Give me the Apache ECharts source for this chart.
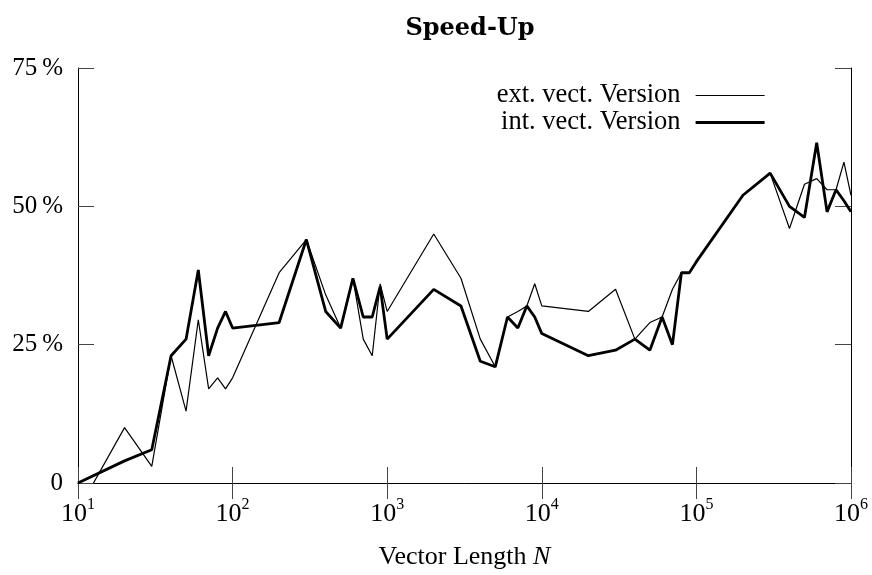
<!DOCTYPE html>
<html>
<head>
<meta charset="utf-8">
<script src="https://cdn.jsdelivr.net/npm/echarts@6/dist/echarts.min.js"></script>
<style>
html,body{margin:0;padding:0;background:#fff;}
#c{width:872px;height:575px;}
</style>
</head>
<body>
<div id="c"></div>
<script>
const chartTitle = 'Speed-Up';
const xAxisTitle = 'Vector Length ';
const xAxisTitleItalic = 'N';
const seriesNames = ['ext. vect. Version', 'int. vect. Version'];
const yTicks = [0, 25, 50, 75];
const xTicks = [1e1, 1e2, 1e3, 1e4, 1e5, 1e6];

const vectorLengths = [10,20,30,40,50,60,70,80,90,100,200,300,400,500,600,700,800,900,1000,2000,3000,4000,5000,6000,7000,8000,9000,10000,20000,30000,40000,50000,60000,70000,80000,90000,100000,200000,300000,400000,500000,600000,700000,800000,900000,1000000];
const extValues = [-5,10,3,23,13,29.5,17,19,17,19,38,44,34,28,37,26,23,36,31,45,37,26,21,30,31,32,36,32,31,35,26,29,30,35,38,38,40,52,56,46,54,55,53,53,58,52];
const intValues = [0,4,6,23,26,38.5,23,28,31,28,29,44,31,28,37,30,30,35.5,26,35,32,22,21,30,28,32,30,27,23,24,26,24,30,25,38,38,40,52,56,50,48,61.5,49,53,51,49];

const serif = '"Liberation Serif", "Times New Roman", serif';
const pairs = vals => vectorLengths.map((n, i) => [n, vals[i]]);

const chart = echarts.init(document.getElementById('c'), null, {renderer: 'canvas'});

const baseX = {
  type: 'log', logBase: 10, min: xTicks[0], max: xTicks[xTicks.length - 1],
  axisLine: {show: true, lineStyle: {color: '#000', width: 1}},
  axisTick: {show: true, inside: true, length: 16, lineStyle: {color: '#444', width: 1}},
  minorTick: {show: false},
  splitLine: {show: false}
};
const baseY = {
  type: 'value', min: yTicks[0], max: yTicks[yTicks.length - 1], interval: 25,
  axisLine: {show: true, lineStyle: {color: '#000', width: 1}},
  axisTick: {show: true, inside: true, length: 16, lineStyle: {color: '#444', width: 1}},
  splitLine: {show: false}
};

chart.setOption({
  animation: false,
  backgroundColor: '#fff',
  title: {
    text: chartTitle, left: 465, top: 12, textAlign: 'center',
    textStyle: {fontFamily: '"DejaVu Serif", serif', fontWeight: 'bold', fontSize: 24, color: '#000'}
  },
  legend: {
    orient: 'vertical', right: 106, top: 82, padding: 0,
    align: 'right', itemWidth: 69, itemHeight: 14, itemGap: 0,
    data: seriesNames,
    itemStyle: {opacity: 0},
    lineStyle: {width: 'inherit'},
    textStyle: {fontFamily: serif, fontSize: 26.5, lineHeight: 27, color: '#000', padding: [0, 10, 0, 0]}
  },
  grid: {left: 78, right: 21, top: 68, bottom: 92, containLabel: false, outerBoundsMode: 'none'},
  xAxis: [
    Object.assign({}, baseX, {
      position: 'bottom',
      axisLabel: {
        margin: 14,
        formatter: v => '{b|10}{s|' + Math.round(Math.log10(v)) + '}',
        rich: {
          b: {fontFamily: serif, fontSize: 26, color: '#000', lineHeight: 30, verticalAlign: 'bottom'},
          s: {fontFamily: serif, fontSize: 16, color: '#000', lineHeight: 16, verticalAlign: 'top'}
        }
      },
      name: '{a|' + xAxisTitle + '}{i|' + xAxisTitleItalic + '}',
      nameLocation: 'middle', nameGap: 61,
      nameTextStyle: {
        rich: {
          a: {fontFamily: serif, fontSize: 26, color: '#000'},
          i: {fontFamily: serif, fontSize: 26, color: '#000', fontStyle: 'italic'}
        }
      }
    }),
    Object.assign({}, baseX, {position: 'top', axisLabel: {show: false}})
  ],
  yAxis: [
    Object.assign({}, baseY, {
      position: 'left',
      axisLabel: {
        margin: 15, fontFamily: serif, fontSize: 25, color: '#000',
        formatter: v => v === 0 ? '0' : v + '\u2009%'
      }
    }),
    Object.assign({}, baseY, {position: 'right', axisLabel: {show: false}})
  ],
  series: [
    {
      name: seriesNames[0], type: 'line', xAxisIndex: 0, yAxisIndex: 0,
      data: pairs(extValues), symbol: 'none', showSymbol: false, clip: true,
      lineStyle: {color: '#000', width: 1.2}, itemStyle: {color: '#000'}
    },
    {
      name: seriesNames[1], type: 'line', xAxisIndex: 0, yAxisIndex: 0,
      data: pairs(intValues), symbol: 'none', showSymbol: false, clip: true,
      lineStyle: {color: '#000', width: 2.8}, itemStyle: {color: '#000'}
    }
  ]
});
</script>
</body>
</html>
